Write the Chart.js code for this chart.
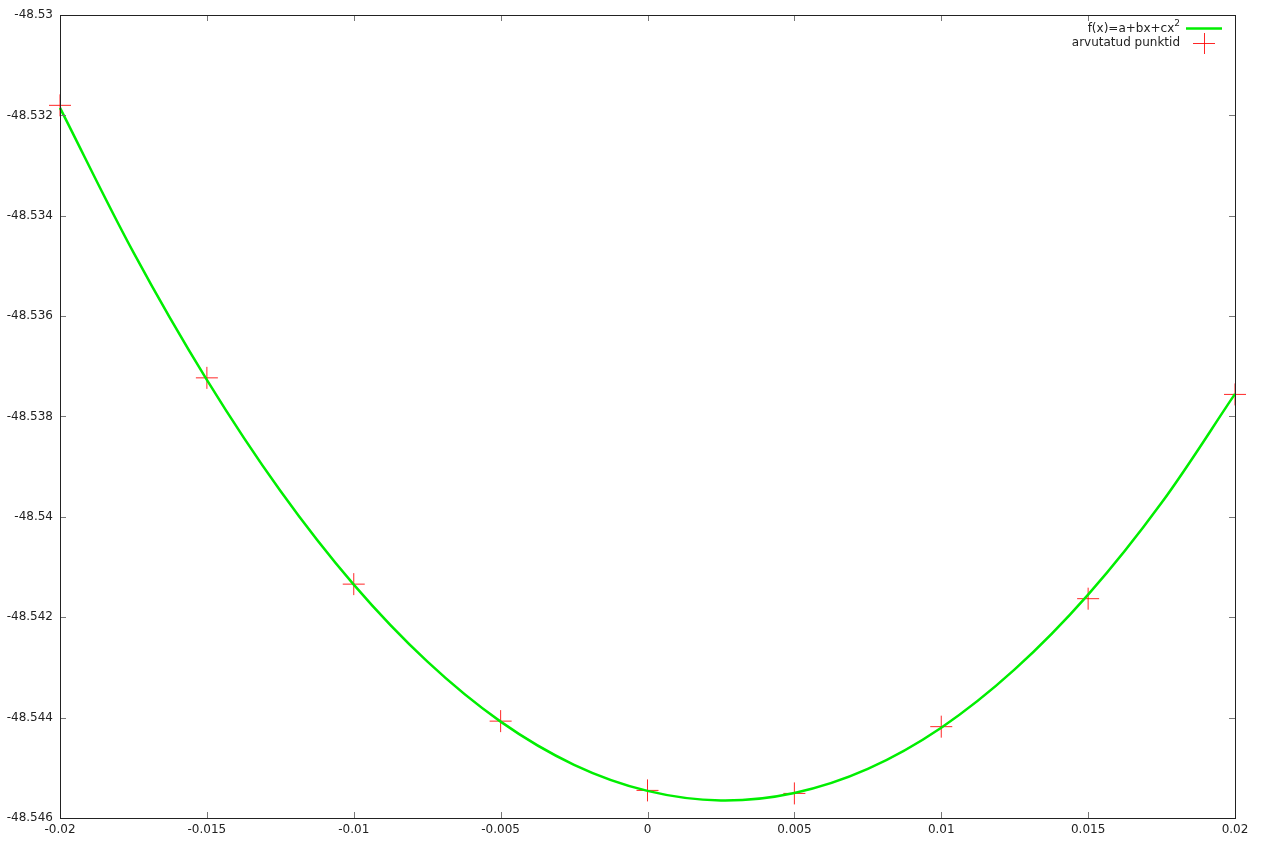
<!DOCTYPE html>
<html>
<head>
<meta charset="utf-8">
<script src="https://cdn.jsdelivr.net/npm/chart.js@4"></script>
<style>
    body { margin: 0; background: #fff; }
    #wrap { width: 1265px; height: 841px; }
</style>
</head>
<body>
<div id="wrap"><canvas id="myChart" width="1265" height="841"></canvas></div>
<script>
// arvutatud punktid
const pointX = [-0.02, -0.015, -0.01, -0.005, 0, 0.005, 0.01, 0.015, 0.02];
const pointY = [-48.5318, -48.53723, -48.54134, -48.54407, -48.54545, -48.54551, -48.54418, -48.54163, -48.53756];

// fitted curve
const curveX = [-0.02, -0.0175, -0.015, -0.0125, -0.01, -0.0075, -0.005, -0.0025, 0, 0.0025, 0.005, 0.0075, 0.01, 0.0125, 0.015, 0.0175, 0.02];
const curveY = [-48.53185, -48.53473, -48.53727, -48.53948, -48.54135, -48.54288, -48.54408, -48.54494, -48.54546, -48.54565, -48.5455, -48.54502, -48.5442, -48.54304, -48.54155, -48.53972, -48.53755];

const xTicks = [-0.02, -0.015, -0.01, -0.005, 0, 0.005, 0.01, 0.015, 0.02];
const yTicks = [-48.546, -48.544, -48.542, -48.54, -48.538, -48.536, -48.534, -48.532, -48.53];

const legendLabels = ['f(x)=a+bx+cx', 'arvutatud punktid'];

const fontFamily = '"DejaVu Sans", sans-serif';

function toXY(xs, ys) {
    return xs.map(function (x, i) {
        return { x: x, y: ys[i] };
    });
}

// border, inward ticks on all four sides, and the legend in the corner
const gnuplotLook = {
    id: 'gnuplotLook',
    afterDraw(chart) {
        const ctx = chart.ctx;
        const a = chart.chartArea;
        const xs = chart.scales.x;
        const ys = chart.scales.y;
        ctx.save();

        ctx.strokeStyle = '#777';
        ctx.lineWidth = 1;
        ctx.beginPath();
        xTicks.forEach(function (v) {
            const px = Math.round(xs.getPixelForValue(v)) + 0.5;
            ctx.moveTo(px, a.bottom);
            ctx.lineTo(px, a.bottom - 6);
            ctx.moveTo(px, a.top);
            ctx.lineTo(px, a.top + 6);
        });
        yTicks.forEach(function (v) {
            const py = Math.round(ys.getPixelForValue(v)) + 0.5;
            ctx.moveTo(a.left, py);
            ctx.lineTo(a.left + 6, py);
            ctx.moveTo(a.right, py);
            ctx.lineTo(a.right - 6, py);
        });
        ctx.stroke();

        ctx.strokeStyle = '#222';
        ctx.strokeRect(Math.round(a.left) + 0.5, Math.round(a.top) + 0.5,
            Math.round(a.right - a.left), Math.round(a.bottom - a.top));

        // legend
        ctx.fillStyle = '#222';
        ctx.textAlign = 'right';
        ctx.textBaseline = 'middle';
        const textRight = 1180;
        ctx.font = '9px ' + fontFamily;
        ctx.fillText('2', textRight, 24);
        const supW = ctx.measureText('2').width;
        ctx.font = '12px ' + fontFamily;
        ctx.fillText(legendLabels[0], textRight - supW, 29);
        ctx.fillText(legendLabels[1], textRight, 43);

        ctx.strokeStyle = '#00ee00';
        ctx.lineWidth = 2.5;
        ctx.beginPath();
        ctx.moveTo(1186, 28.5);
        ctx.lineTo(1222, 28.5);
        ctx.stroke();

        ctx.strokeStyle = 'rgba(255,0,0,0.85)';
        ctx.lineWidth = 1;
        ctx.beginPath();
        ctx.moveTo(1193, 43.5);
        ctx.lineTo(1215, 43.5);
        ctx.moveTo(1204.5, 33);
        ctx.lineTo(1204.5, 54);
        ctx.stroke();

        ctx.restore();
    }
};

let myChart = document.getElementById('myChart').getContext('2d');

let chart = new Chart(myChart, {
    type: 'scatter',
    data: {
        datasets: [{
            label: legendLabels[0] + '2',
            data: toXY(curveX, curveY),
            showLine: true,
            borderColor: '#00ee00',
            borderWidth: 2.5,
            tension: 0.35,
            pointRadius: 0,
            clip: false
        }, {
            label: legendLabels[1],
            data: toXY(pointX, pointY),
            showLine: false,
            pointStyle: 'cross',
            pointRadius: 11,
            pointBorderWidth: 1,
            pointBorderColor: 'rgba(255,0,0,0.85)',
            pointBackgroundColor: 'rgba(255,0,0,0.85)',
            clip: false
        }]
    },
    options: {
        responsive: false,
        animation: false,
        layout: {
            padding: { top: 15, right: 30, left: 0, bottom: 0 }
        },
        plugins: {
            legend: { display: false },
            tooltip: { enabled: false }
        },
        scales: {
            x: {
                type: 'linear',
                min: -0.02,
                max: 0.02,
                afterBuildTicks: function (scale) {
                    scale.ticks = xTicks.map(function (v) { return { value: v }; });
                },
                afterFit: function (scale) { scale.height = 23; },
                grid: { display: false, drawTicks: false, tickLength: 0 },
                border: { display: false },
                ticks: {
                    color: '#222',
                    padding: 5,
                    maxRotation: 0,
                    font: { family: fontFamily, size: 12 },
                    callback: function (v) { return String(parseFloat(v.toFixed(3))); }
                }
            },
            y: {
                type: 'linear',
                min: -48.546,
                max: -48.53,
                afterBuildTicks: function (scale) {
                    scale.ticks = yTicks.map(function (v) { return { value: v }; });
                },
                afterFit: function (scale) { scale.width = 60; },
                grid: { display: false, drawTicks: false, tickLength: 0 },
                border: { display: false },
                ticks: {
                    color: '#222',
                    padding: 7,
                    font: { family: fontFamily, size: 12 },
                    callback: function (v) { return String(parseFloat(v.toFixed(3))); }
                }
            }
        }
    },
    plugins: [gnuplotLook]
});
</script>
</body>
</html>
